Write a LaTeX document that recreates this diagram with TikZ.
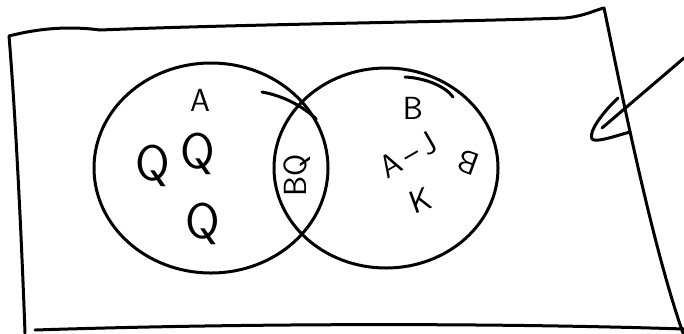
\documentclass[tikz,border=0pt]{standalone}
\usepackage{tikz}
\usetikzlibrary{shapes.geometric}

\begin{document}
\begin{tikzpicture}[x=1pt, y=-1pt,
        hand/.style={line width=3pt, line cap=round, line join=round},
        lbl/.style={font=\sffamily\fontsize{32}{32}\selectfont, inner sep=0pt},
        big/.style={font=\sffamily\fontsize{50}{50}\selectfont, inner sep=0pt}]
        \useasboundingbox (0,0) rectangle (684,333);

        \draw[hand] (9,36) .. controls (40,28) and (70,26) .. (100,30) .. controls (250,24) and (450,22) .. (565,18) .. controls (585,16) and (595,10) .. (604,8) .. controls (615,60) and (650,240) .. (683,333);
        \draw[hand] (9,36) .. controls (16,120) and (22,250) .. (25,333);
        \draw[hand] (35,330) .. controls (250,323) and (500,323) .. (684,329);

        \node (setA) at (211,168) [draw, ellipse, hand, minimum width=234pt, minimum height=210pt, inner sep=0pt] {};
        \node (setB) at (386,168) [draw, ellipse, hand, minimum width=224pt, minimum height=200pt, inner sep=0pt] {};
        \draw[hand] (262,92) .. controls (285,96) and (305,108) .. (setA.25);
        \draw[hand] (405,77) .. controls (425,78) and (445,86) .. (453,97);

        \node (a)  at (200,100) [lbl] {A};
        \node (q1) at (198,154) [big] {Q};
        \node (q2) at (153,166) [big] {Q};
        \node (q3) at (203,224) [big] {Q};
        \node (bq) at (297,175) [lbl, rotate=90] {BQ};
        \node (b1) at (413,108) [lbl] {B};
        \node (aj) at (408,155) [lbl, rotate=30] {A\,--\,J};
        \node (k)  at (420,200) [lbl, rotate=20] {K};
        \node (b2) at (468,163) [lbl, rotate=160] {B};

        \coordinate (tail) at (684,58);
        \coordinate (tip) at (602,128);
        \draw[hand] (tail) -- (tip);
        \draw[hand] (618,98) .. controls (603,112) and (588,132) .. (592,139) .. controls (596,143) and (615,136) .. (630,132);
    \end{tikzpicture}
\end{document}
